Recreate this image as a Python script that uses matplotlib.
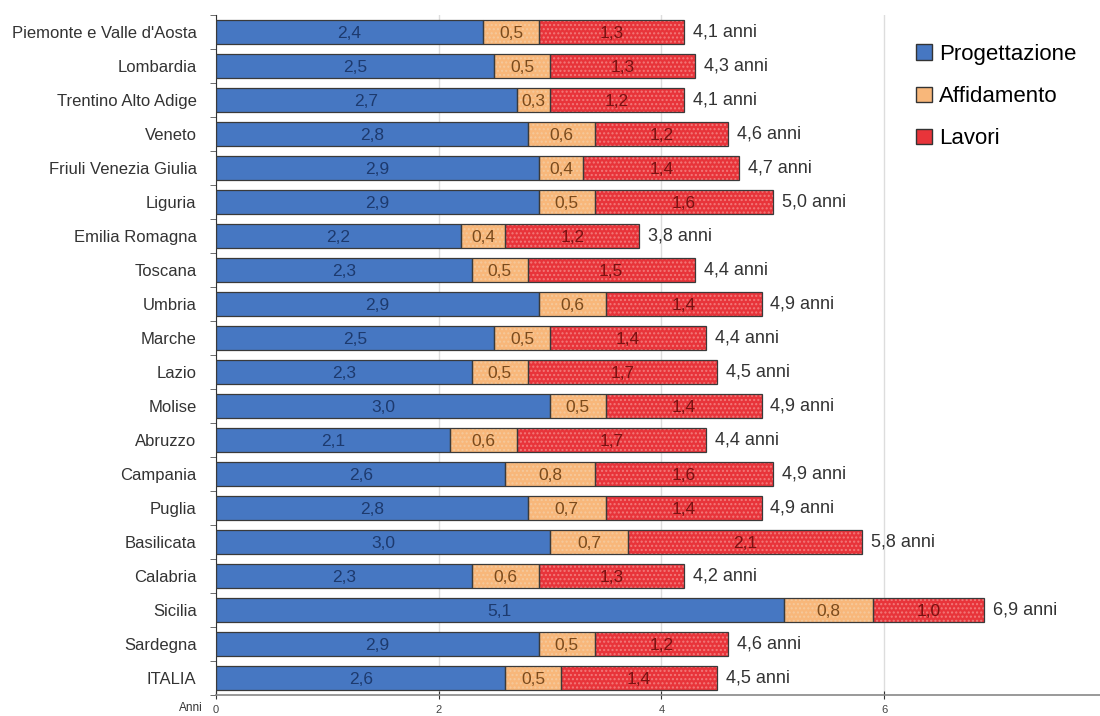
import matplotlib
matplotlib.use("Agg")
import matplotlib.pyplot as plt
from matplotlib.patches import Patch
import numpy as np

plt.rcParams['font.family'] = ['Liberation Sans', 'DejaVu Sans']
plt.rcParams['hatch.linewidth'] = 1.0

regions = ["Piemonte e Valle d'Aosta", "Lombardia", "Trentino Alto Adige", "Veneto",
           "Friuli Venezia Giulia", "Liguria", "Emilia Romagna", "Toscana", "Umbria",
           "Marche", "Lazio", "Molise", "Abruzzo", "Campania", "Puglia", "Basilicata",
           "Calabria", "Sicilia", "Sardegna", "ITALIA"]
progettazione = [2.4, 2.5, 2.7, 2.8, 2.9, 2.9, 2.2, 2.3, 2.9, 2.5,
                 2.3, 3.0, 2.1, 2.6, 2.8, 3.0, 2.3, 5.1, 2.9, 2.6]
affidamento = [0.5, 0.5, 0.3, 0.6, 0.4, 0.5, 0.4, 0.5, 0.6, 0.5,
               0.5, 0.5, 0.6, 0.8, 0.7, 0.7, 0.6, 0.8, 0.5, 0.5]
lavori = [1.3, 1.3, 1.2, 1.2, 1.4, 1.6, 1.2, 1.5, 1.4, 1.4,
          1.7, 1.4, 1.7, 1.6, 1.4, 2.1, 1.3, 1.0, 1.2, 1.4]
totale = [4.1, 4.3, 4.1, 4.6, 4.7, 5.0, 3.8, 4.4, 4.9, 4.4,
          4.5, 4.9, 4.4, 4.9, 4.9, 5.8, 4.2, 6.9, 4.6, 4.5]
x_ticks = [0, 2, 4, 6]

series = [
    ("Progettazione", progettazione, "#4677c2", None, None, "#1d3a6e"),
    ("Affidamento", affidamento, "#f8b77a", "....", "#f5c99c", "#7a4a1c"),
    ("Lavori", lavori, "#e8343a", "....", "#f27a7a", "#7a1212"),
]

def fmt(v):
    return f"{v:.1f}".replace(".", ",")

fig = plt.figure(figsize=(11, 7.16), dpi=100)
ax = fig.add_axes([216 / 1100, 21 / 716, 1 - 216 / 1100, 680 / 716])

y = np.arange(len(regions))
left = np.zeros(len(regions))
bar_h = 0.7
for name, vals, color, hatch, hcolor, tcolor in series:
    vals = np.array(vals)
    if hatch:
        ax.barh(y, vals, left=left, height=bar_h, color=color, hatch=hatch,
                edgecolor=hcolor, linewidth=0, zorder=2)
    else:
        ax.barh(y, vals, left=left, height=bar_h, color=color, linewidth=0, zorder=2)
    ax.barh(y, vals, left=left, height=bar_h, fill=False, edgecolor="#3a3a3a",
            linewidth=0.9, zorder=3)
    for yi, l, v in zip(y, left, vals):
        ax.text(l + v / 2, yi + 0.04, fmt(v), ha="center", va="center",
                fontsize=12.5, color=tcolor, zorder=4)
    left = left + vals

for yi, end, tot in zip(y, left, totale):
    ax.text(end + 0.08, yi, f"{fmt(tot)} anni", ha="left", va="center",
            fontsize=13, color="#333333", zorder=4)

ax.set_ylim(len(regions) - 0.5, -0.5)
ax.set_xlim(0, 7.94)
ax.set_yticks(y)
ax.set_yticklabels(regions, fontsize=12, color="#333333")
ax.set_yticks(np.arange(-0.5, len(regions), 1), minor=True)
ax.tick_params(axis="y", which="major", length=0, pad=14)
ax.tick_params(axis="y", which="minor", length=4, color="#555555", direction="out")
ax.set_xticks(x_ticks)
ax.set_xticklabels([str(t) for t in x_ticks], fontsize=8, color="#444444")
ax.tick_params(axis="x", length=6, direction="inout", color="#333333", pad=4)
ax.xaxis.grid(True, color="#dddddd", linewidth=1, zorder=0)
ax.set_axisbelow(True)
for s in ["top", "right"]:
    ax.spines[s].set_visible(False)
ax.spines["left"].set_color("#333333")
ax.spines["bottom"].set_color("#888888")
ax.spines["bottom"].set_linewidth(1.2)

fig.text(203 / 1100, 2 / 716, "Anni", ha="right", va="bottom", fontsize=8.5, color="#333333")

handles = [Patch(facecolor=c, edgecolor="#333333", linewidth=1, label=n)
           for n, _, c, _, _, _ in series]
fig.legend(handles=handles, loc="upper left", bbox_to_anchor=(916 / 1100, 1 - 44 / 716),
           frameon=False, fontsize=16, handlelength=0.7, handleheight=0.7,
           handletextpad=0.35, labelspacing=0.95, borderaxespad=0, borderpad=0)

fig.savefig("out.png", dpi=100)
